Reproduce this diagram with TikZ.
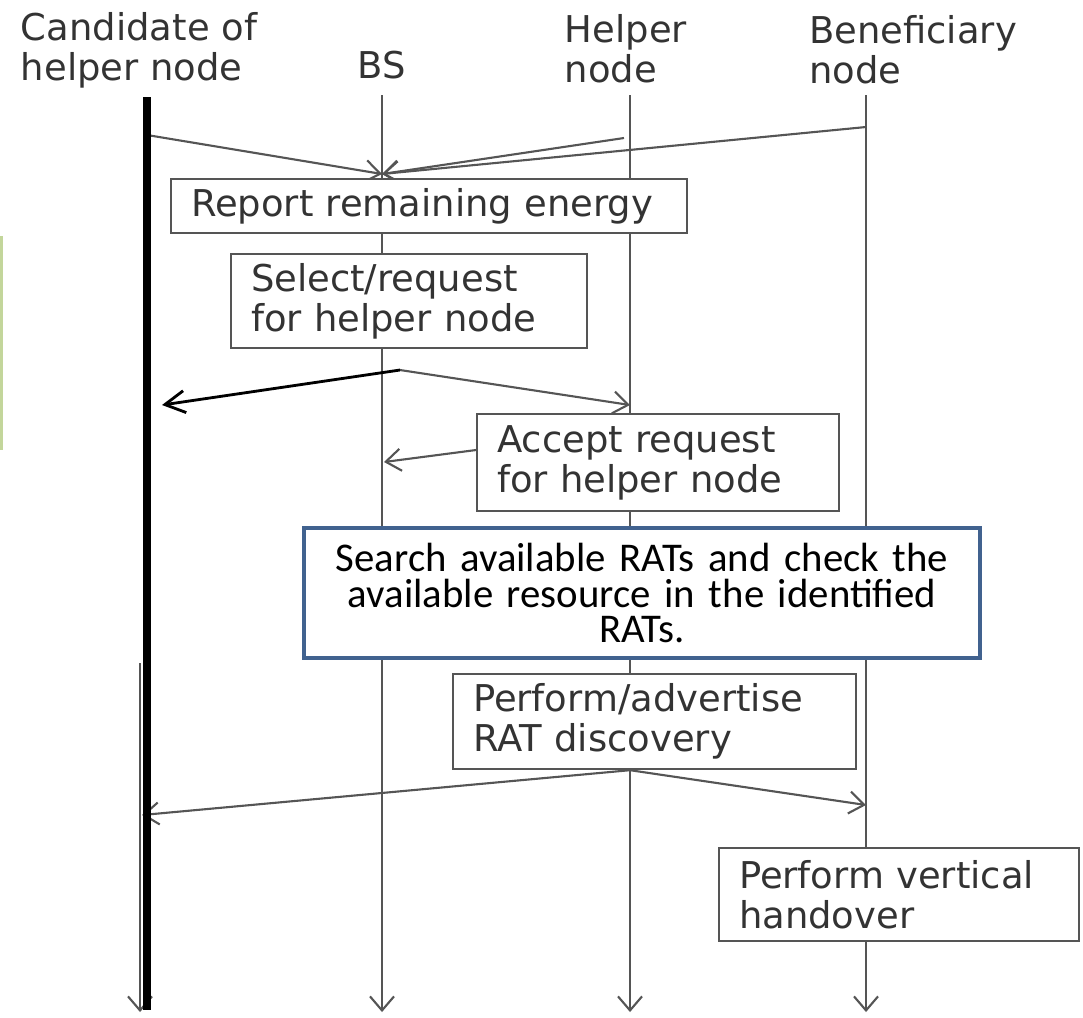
\documentclass[tikz,border=0pt]{standalone}
\usepackage{fontspec}
\setmainfont{DejaVu Sans}
\newfontfamily\calib{Carlito}
\usetikzlibrary{arrows.meta,positioning}
\definecolor{linegray}{HTML}{555555}
\definecolor{txtgray}{HTML}{333333}
\definecolor{boxblue}{HTML}{41628F}
\definecolor{leafgreen}{HTML}{C3D69B}
\tikzset{
  life/.style={draw=linegray, line width=0.6pt, -{Straight Barb[length=1.4mm,width=2.4mm]}},
  msg/.style={draw=linegray, line width=0.6pt, -{Straight Barb[length=1.5mm,width=2.2mm]}},
  stepbox/.style={draw=linegray, fill=white, line width=0.6pt, inner xsep=0.2cm, inner ysep=0pt, align=left, text=txtgray, anchor=north west, font=\fontsize{10.5}{11.4}\selectfont},
  head/.style={text=txtgray, inner sep=0pt, align=left, font=\fontsize{10.5}{11.4}\selectfont}
}
\begin{document}
\begin{tikzpicture}[x=0.01cm,y=-0.01cm]
\useasboundingbox (0,0) rectangle (1083,1017);
\draw[leafgreen, line width=1.2pt](1,236)--(1,450);
% heads
\node[head] (cand) at (139,50) {Candidate of\\helper node};
\node[head, anchor=base] (bs) at (382,78) {BS};
\node[head] (help) at (626,49) {Helper\\node};
\node[head] (bene) at (913,50) {Beneficiary\\node};
% life lines
\draw[life] (140,663) coordinate(c0) -- (140,1012) coordinate(c1);
\draw[life] (382,95) coordinate(b0) -- (382,1012) coordinate(b1);
\draw[life] (630,95) coordinate(h0) -- (630,1012) coordinate(h1);
\draw[life] (866,95) coordinate(e0) -- (866,1012) coordinate(e1);
% report
\coordinate (bsin) at (382,174);
\draw[msg] (147,135) coordinate(c2) -- (bsin);
\draw[msg] (624,138) coordinate(h2) -- (bsin);
\draw[msg] (866,127) coordinate(e2) -- (bsin);
\node[stepbox, text width=4.76cm, minimum height=0.54cm] (report) at (170,178) {Report remaining energy};
\node[stepbox, text width=3.16cm, minimum height=0.94cm] (select) at (230,253) {Select/request\\for helper node};
\coordinate (bs2) at (400,370);
\draw[msg] (bs2) -- (630,405) coordinate(h3);
\node[stepbox, text width=3.22cm, minimum height=0.97cm] (accept) at (476,413) {Accept request\\for helper node};
\draw[msg] (476,450) coordinate(a1) -- (384,462) coordinate(bs3);
\node[draw=boxblue, line width=1.2pt, fill=white, inner xsep=0pt, text width=6.76cm, align=center, minimum height=1.3cm, font=\calib\fontsize{11.6}{10}\selectfont] (search) at (642,593) {Search available RATs and check the\\available resource in the identified\\RATs.};
\node[stepbox, text width=3.63cm, minimum height=0.95cm] (advert) at (452,673) {Perform/advertise\\RAT discovery};
\coordinate (h4) at (advert.south -| h0);
\draw[msg] (h4) -- (142,815) coordinate(c3);
\draw[msg] (h4) -- (866,805) coordinate(e3);
\node[stepbox, text width=3.2cm, minimum height=0.93cm] (handover) at (718,847) {Perform vertical\\handover};
% thick bar
\draw[black, line width=2.4pt] (147,97) coordinate(k0) -- (147,1010) coordinate(k1);
\draw[black, line width=0.8pt, -{Straight Barb[length=2mm,width=2.2mm]}] (bs2) -- (162,405) coordinate(k2);
\end{tikzpicture}
\end{document}
